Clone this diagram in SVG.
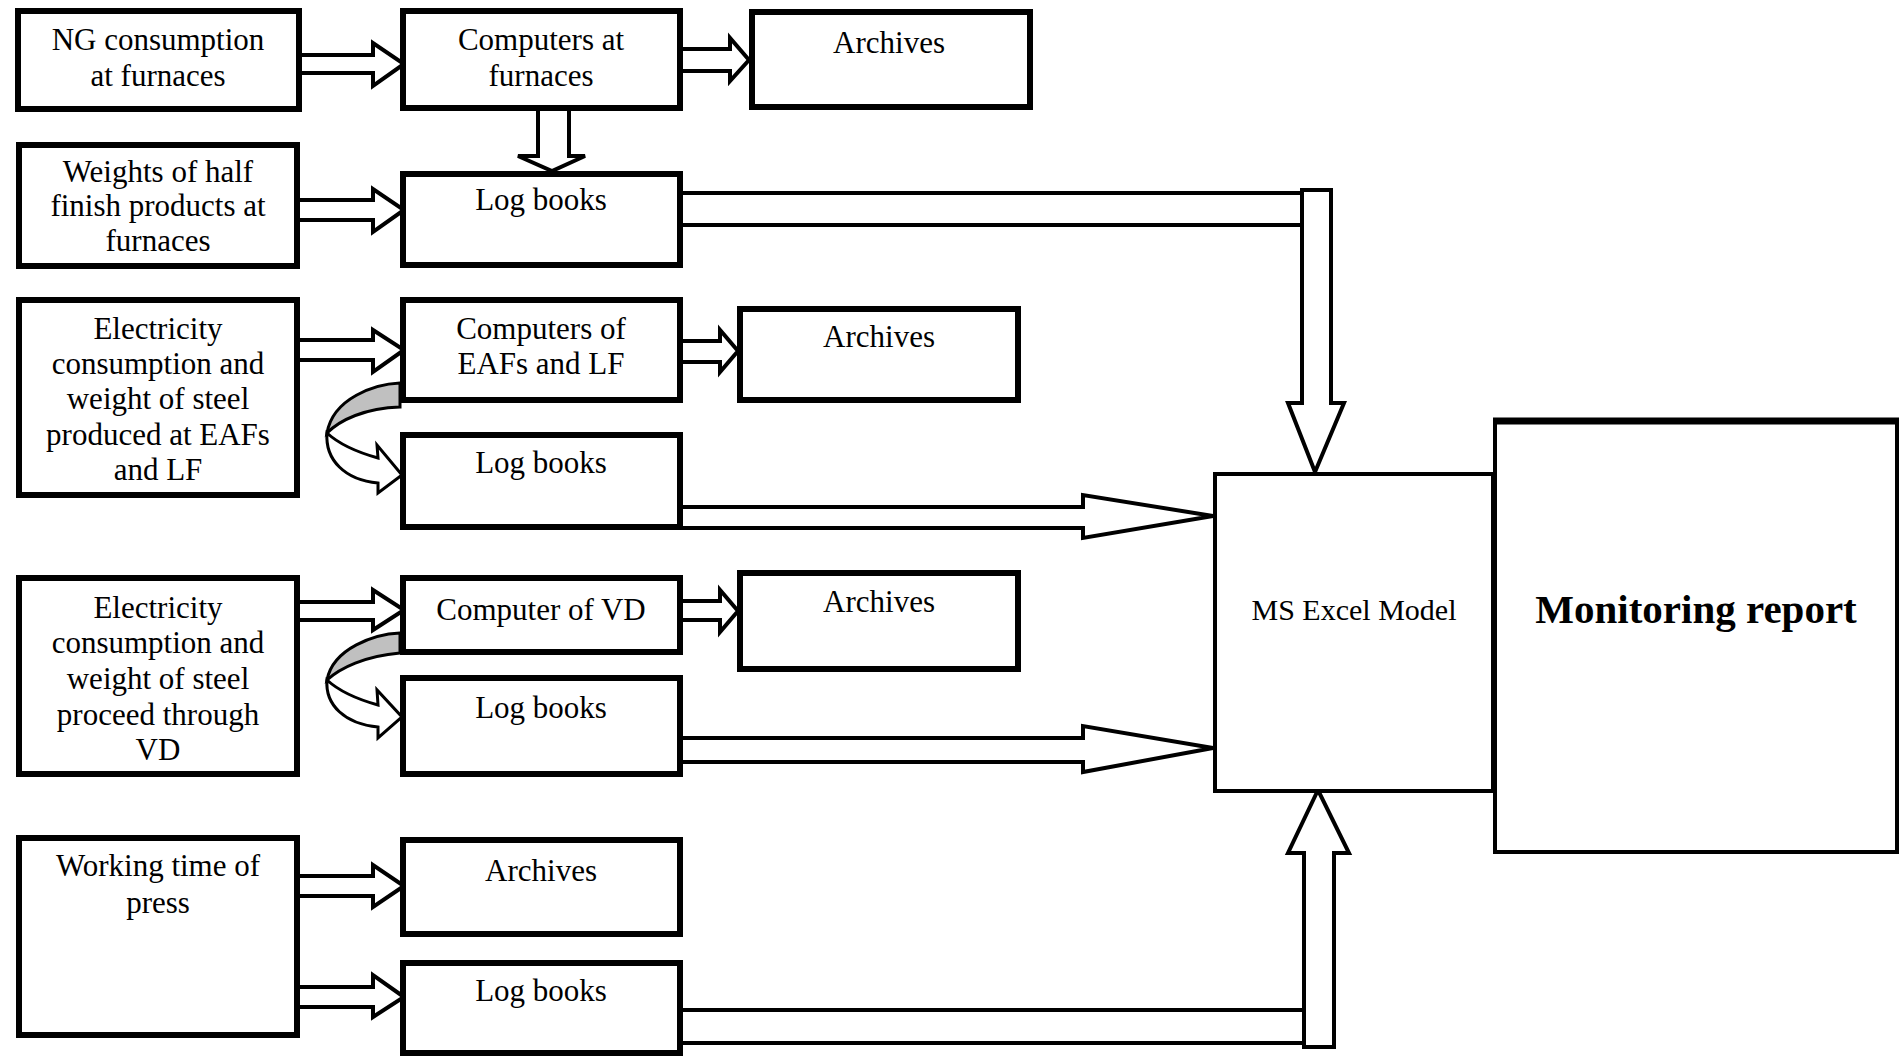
<svg xmlns="http://www.w3.org/2000/svg" width="1903" height="1059" viewBox="0 0 1903 1059">
<style>
.box{fill:#fff;stroke:#000;stroke-width:6}
.thin{fill:#fff;stroke:#000;stroke-width:4}
.t{font-family:"Liberation Serif","Times New Roman",serif;font-size:31px;fill:#000;text-anchor:middle}
.big{font-family:"Liberation Serif","Times New Roman",serif;font-size:41px;font-weight:bold;fill:#000;text-anchor:middle}
.mid{font-family:"Liberation Serif","Times New Roman",serif;font-size:30px;fill:#000;text-anchor:middle}
.ar{fill:#fff;stroke:#000;stroke-width:4;stroke-linejoin:miter}
.gr{fill:#c0c0c0;stroke:#000;stroke-width:3}
.cw{fill:#fff;stroke:#000;stroke-width:3}
</style>
<rect width="1903" height="1059" fill="#fff"/>

<g id="connectors">
  <!-- short arrows from left boxes -->
  <path class="ar" d="M300 55 L373 55 L373 43 L404 64 L373 86 L373 73 L300 73"/>
  <path class="ar" d="M300 200 L373 200 L373 189 L404 210 L373 232 L373 220 L300 220"/>
  <path class="ar" d="M300 340 L373 340 L373 330 L404 350 L373 372 L373 360 L300 360"/>
  <path class="ar" d="M300 602 L373 602 L373 590 L404 610 L373 630 L373 620 L300 620"/>
  <path class="ar" d="M300 876 L373 876 L373 865 L404 886 L373 907 L373 896 L300 896"/>
  <path class="ar" d="M300 987 L373 987 L373 975 L404 997 L373 1017 L373 1007 L300 1007"/>
  <!-- to archives -->
  <path class="ar" d="M683 49 L730 49 L730 38 L749 60 L730 81 L730 71 L683 71"/>
  <path class="ar" d="M683 341 L720 341 L720 330 L738 351 L720 372 L720 362 L683 362"/>
  <path class="ar" d="M683 601 L720 601 L720 590 L738 611 L720 632 L720 620 L683 620"/>
  <!-- down arrow computers -> log books -->
  <path class="ar" d="M538 110 L538 156 L518 156 L552 171 L585 156 L569 156 L569 110"/>
  <!-- curved arrows -->
  <path class="gr" d="M400 383 C375 384 333 398 327 433 C340 420 365 408 400 407 Z"/>
  <path class="cw" d="M327 433 C325 460 345 480 378 483 L378 493 L402 475 L377 445 L378 458 C360 453 340 445 327 433 Z"/>
  <path class="gr" d="M400 633 C375 634 333 648 327 680 C340 668 365 656 400 653 Z"/>
  <path class="cw" d="M327 680 C325 705 345 724 378 727 L378 738 L402 717 L377 690 L378 705 C360 700 340 692 327 680 Z"/>
  <!-- long pipe top -->
  <path class="ar" d="M683 193 L1302 193 L1302 225 L683 225"/>
  <path class="ar" d="M1302 190 L1331 190 L1331 403 L1344 403 L1315 472 L1288 403 L1302 403 Z"/>
  <!-- to MS Excel from left -->
  <path class="ar" d="M683 507 L1083 507 L1083 495 L1213 516 L1083 538 L1083 528 L683 528"/>
  <path class="ar" d="M683 738 L1083 738 L1083 726 L1213 748 L1083 772 L1083 762 L683 762"/>
  <!-- long pipe bottom -->
  <path class="ar" d="M683 1010 L1304 1010 L1304 1043 L683 1043"/>
  <path class="ar" d="M1304 1047 L1334 1047 L1334 853 L1349 853 L1318 790 L1288 853 L1304 853 Z"/>
</g>

<g id="ng">
  <rect class="box" x="18" y="11" width="281" height="98"/>
  <text class="t" x="158" y="50">NG consumption</text>
  <text class="t" x="158" y="86">at furnaces</text>
</g>
<g id="computers-furnaces">
  <rect class="box" x="403" y="11" width="277" height="97"/>
  <text class="t" x="541" y="50">Computers at</text>
  <text class="t" x="541" y="86">furnaces</text>
</g>
<g id="archives-1">
  <rect class="box" x="752" y="12" width="278" height="95"/>
  <text class="t" x="889" y="53">Archives</text>
</g>
<g id="weights">
  <rect class="box" x="19" y="145" width="278" height="121"/>
  <text class="t" x="158" y="182">Weights of half</text>
  <text class="t" x="158" y="216">finish products at</text>
  <text class="t" x="158" y="251">furnaces</text>
</g>
<g id="logbooks-1">
  <rect class="box" x="403" y="174" width="277" height="91"/>
  <text class="t" x="541" y="210">Log books</text>
</g>
<g id="electricity-eaf">
  <rect class="box" x="19" y="300" width="278" height="195"/>
  <text class="t" x="158" y="339">Electricity</text>
  <text class="t" x="158" y="374">consumption and</text>
  <text class="t" x="158" y="409">weight of steel</text>
  <text class="t" x="158" y="445">produced at EAFs</text>
  <text class="t" x="158" y="480">and LF</text>
</g>
<g id="computers-eaf">
  <rect class="box" x="403" y="300" width="277" height="100"/>
  <text class="t" x="541" y="339">Computers of</text>
  <text class="t" x="541" y="374">EAFs and LF</text>
</g>
<g id="archives-2">
  <rect class="box" x="740" y="309" width="278" height="91"/>
  <text class="t" x="879" y="347">Archives</text>
</g>
<g id="logbooks-2">
  <rect class="box" x="403" y="435" width="277" height="92"/>
  <text class="t" x="541" y="473">Log books</text>
</g>
<g id="electricity-vd">
  <rect class="box" x="19" y="578" width="278" height="196"/>
  <text class="t" x="158" y="618">Electricity</text>
  <text class="t" x="158" y="653">consumption and</text>
  <text class="t" x="158" y="689">weight of steel</text>
  <text class="t" x="158" y="725">proceed through</text>
  <text class="t" x="158" y="760">VD</text>
</g>
<g id="computer-vd">
  <rect class="box" x="403" y="578" width="277" height="74"/>
  <text class="t" x="541" y="620">Computer of VD</text>
</g>
<g id="archives-3">
  <rect class="box" x="740" y="573" width="278" height="96"/>
  <text class="t" x="879" y="612">Archives</text>
</g>
<g id="logbooks-vd">
  <rect class="box" x="403" y="678" width="277" height="96"/>
  <text class="t" x="541" y="718">Log books</text>
</g>
<g id="working-time">
  <rect class="box" x="19" y="838" width="278" height="197"/>
  <text class="t" x="158" y="876">Working time of</text>
  <text class="t" x="158" y="913">press</text>
</g>
<g id="archives-4">
  <rect class="box" x="403" y="840" width="277" height="94"/>
  <text class="t" x="541" y="881">Archives</text>
</g>
<g id="logbooks-3">
  <rect class="box" x="403" y="963" width="277" height="90"/>
  <text class="t" x="541" y="1001">Log books</text>
</g>
<g id="ms-excel">
  <rect class="thin" x="1215" y="474" width="278" height="317"/>
  <text class="mid" x="1354" y="620">MS Excel Model</text>
</g>
<g id="monitoring">
  <rect class="thin" x="1495" y="420" width="402" height="432"/>
  <line x1="1493" y1="421" x2="1899" y2="421" stroke="#000" stroke-width="7"/>
  <text class="big" x="1696" y="623">Monitoring report</text>
</g>
</svg>
